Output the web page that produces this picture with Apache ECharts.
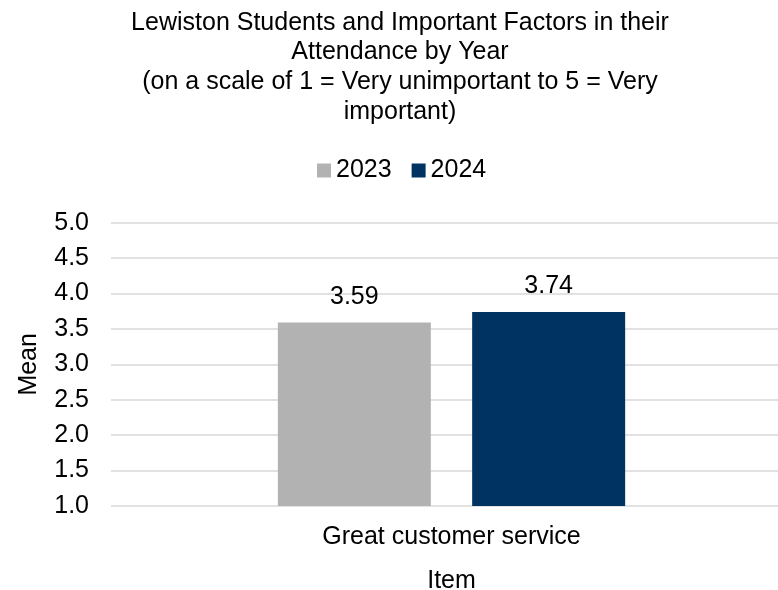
<!DOCTYPE html>
<html>
<head>
<meta charset="utf-8">
<script src="https://cdn.jsdelivr.net/npm/echarts@6/dist/echarts.min.js"></script>
<style>
  html, body { margin: 0; padding: 0; background: #fff; }
  #chart { width: 778px; height: 590px; }
</style>
</head>
<body>
<div id="chart"></div>
<script>
  const categories = ['Great customer service']
  const years = ['2023', '2024']
  const values2023 = [3.59]
  const values2024 = [3.74]
  const yTicks = [1.0, 1.5, 2.0, 2.5, 3.0, 3.5, 4.0, 4.5, 5.0]

  const font = 'Liberation Sans, Arial, sans-serif'
  const colors = ['#b2b2b2', '#003362']

  const chart = echarts.init(document.getElementById('chart'))

  const labelStyle = {
    show: true,
    position: 'top',
    distance: 13,
    fontFamily: font,
    fontSize: 25,
    color: '#000',
    formatter: p => p.value.toFixed(2)
  }

  chart.setOption({
    animation: false,
    title: {
      text: 'Lewiston Students and Important Factors in their\nAttendance by Year\n(on a scale of 1 = Very unimportant to 5 = Very\nimportant)',
      left: 400,
      top: 8,
      padding: 0,
      textAlign: 'center',
      textStyle: {
        fontFamily: font,
        fontSize: 25,
        fontWeight: 'normal',
        color: '#000',
        lineHeight: 29.7
      }
    },
    legend: {
      data: years,
      left: 317,
      top: 158,
      padding: 0,
      icon: 'rect',
      itemWidth: 14,
      itemHeight: 14,
      itemGap: 20,
      textStyle: { fontFamily: font, fontSize: 25, color: '#000' }
    },
    // plot area runs past the right edge of the canvas, as in the reference
    grid: {
      left: 111,
      width: 681,
      top: 222.7,
      bottom: 84,
      outerBoundsMode: 'none',
      containLabel: false
    },
    xAxis: {
      type: 'category',
      data: categories,
      name: 'Item',
      nameLocation: 'middle',
      nameGap: 63,
      nameTextStyle: { fontFamily: font, fontSize: 25, color: '#000' },
      axisLine: { show: false },
      axisTick: { show: false },
      axisLabel: { fontFamily: font, fontSize: 25, color: '#000', margin: 19 }
    },
    yAxis: {
      type: 'value',
      min: yTicks[0],
      max: yTicks[yTicks.length - 1],
      interval: 0.5,
      name: 'Mean',
      nameLocation: 'middle',
      nameRotate: 90,
      nameGap: 69,
      nameTextStyle: { fontFamily: font, fontSize: 25, color: '#000' },
      axisLine: { show: false },
      axisTick: { show: false },
      axisLabel: {
        fontFamily: font,
        fontSize: 25,
        color: '#000',
        margin: 22,
        formatter: v => v.toFixed(1)
      },
      splitLine: { lineStyle: { color: '#d9d9d9', width: 1.5 } }
    },
    series: [{
      name: years[0],
      type: 'bar',
      data: values2023,
      barWidth: 153,
      barGap: '27%',
      itemStyle: { color: colors[0] },
      label: labelStyle
    }, {
      name: years[1],
      type: 'bar',
      data: values2024,
      barWidth: 153,
      barGap: '27%',
      itemStyle: { color: colors[1] },
      label: labelStyle
    }]
  })
</script>
</body>
</html>
